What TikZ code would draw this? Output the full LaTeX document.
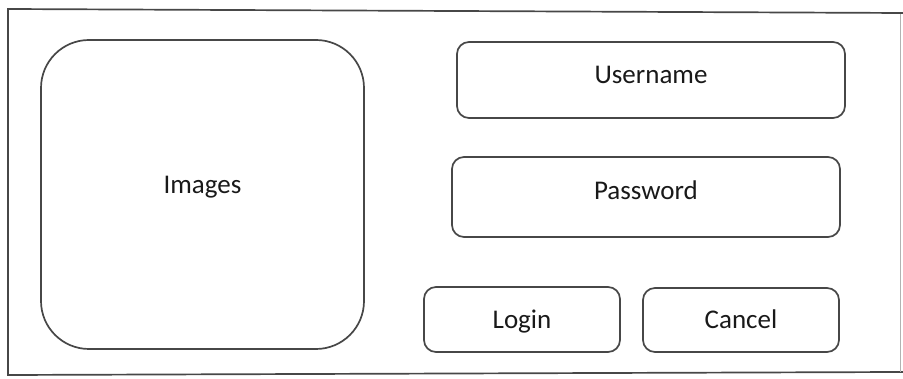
\documentclass[tikz,border=0pt]{standalone}
\usepackage{fontspec}
\setmainfont{Carlito}
\begin{document}
\begin{tikzpicture}[x=1pt,y=-1pt,
  edge/.style={draw=black!72, line width=1.7pt},
  box/.style={edge, rounded corners=12pt, inner sep=0pt, text=black!90,
    font=\fontsize{27}{32}\selectfont},
]
\useasboundingbox (0,0) rectangle (903,379);
% outer frame
\coordinate (tl) at (8,9);
\coordinate (tr) at (903,13);
\coordinate (br) at (900,372);
\coordinate (bl) at (8,375);
\draw[edge] (tr) -- (tl) -- (bl) -- (br) -- (903,372);
\draw[draw=black!30, line width=1pt] (900,14) -- (br);
% boxes
\node[box, rounded corners=48pt, minimum width=323pt, minimum height=309pt,
  text height=10pt, text depth=11pt] (img) at (202.5,194.5) {Images};
\node[box, minimum width=388pt, minimum height=76pt,
  text height=14pt, text depth=6pt] (user) at (651,80) {Username};
\node[box, minimum width=388pt, minimum height=80pt,
  text height=13pt, text depth=7pt] (pass) at (646,197) {Password};
\node[box, minimum width=196pt, minimum height=65pt,
  text height=19pt, text depth=1pt] (login) at (522,319.5) {Login};
\node[box, minimum width=196pt, minimum height=64pt,
  text height=19pt, text depth=1pt] (cancel) at (741,320) {Cancel};
\end{tikzpicture}
\end{document}
